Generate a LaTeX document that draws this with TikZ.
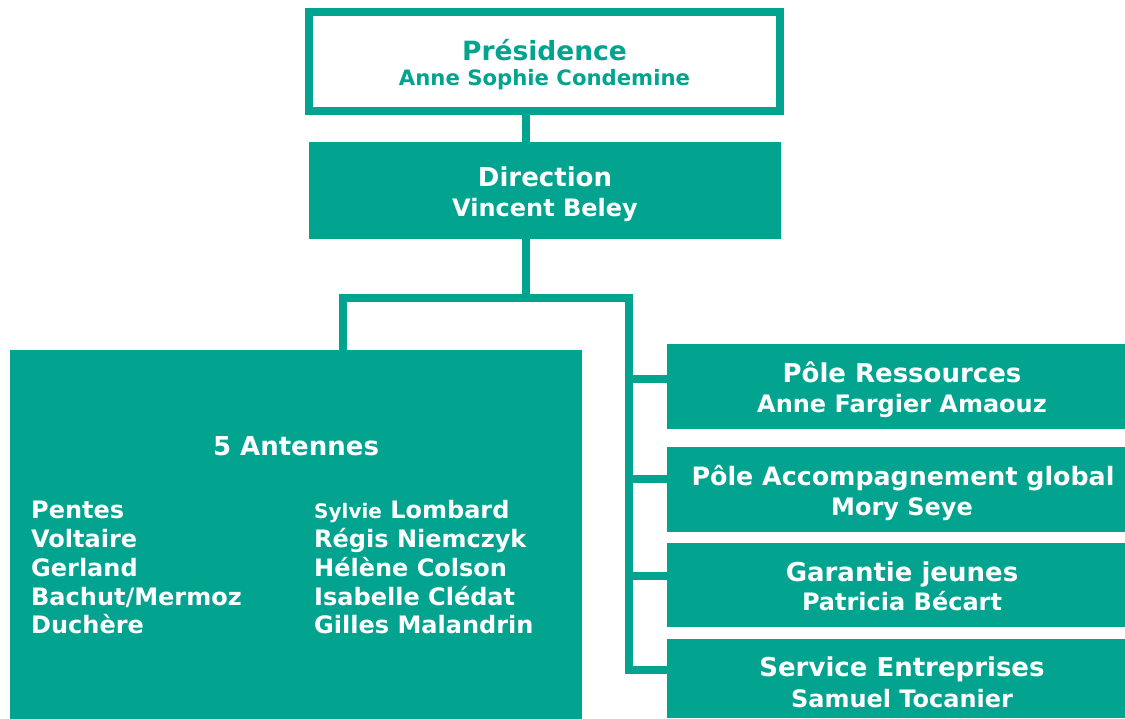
\documentclass[tikz,border=0pt]{standalone}
\usepackage{fontspec}
\setmainfont{DejaVu Sans}
\definecolor{mlteal}{RGB}{2,164,144}
\begin{document}
\begin{tikzpicture}[x=1pt,y=-1pt,
  fillbox/.style={fill=mlteal,draw=none,inner sep=0pt,outer sep=0pt},
  conn/.style={draw=mlteal,line width=8pt,line join=miter},
  ttl/.style={anchor=base,text=white,font=\bfseries\fontsize{26}{30}\selectfont,inner sep=0pt},
  nm/.style={anchor=base,text=white,font=\bfseries\fontsize{24}{28}\selectfont,inner sep=0pt},
  lst/.style={anchor=base west,text=white,font=\bfseries\fontsize{24}{28}\selectfont,inner sep=0pt}]
\useasboundingbox (0,0) rectangle (1125,719);
% boxes
\node[draw=mlteal,line width=8pt,fill=white,inner sep=0pt,minimum width=471pt,minimum height=99pt] (pres) at (544.5,61.5) {};
\node[fillbox,minimum width=472pt,minimum height=97pt] (dir) at (545,190.5) {};
\node[fillbox,minimum width=572pt,minimum height=369pt] (ant) at (296,534.5) {};
\node[fillbox,minimum width=458pt,minimum height=85pt] (pr) at (896,386.5) {};
\node[fillbox,minimum width=458pt,minimum height=85pt] (pa) at (896,489.5) {};
\node[fillbox,minimum width=458pt,minimum height=84pt] (gj) at (896,585) {};
\node[fillbox,minimum width=458pt,minimum height=79pt] (se) at (896,678.5) {};
% connectors
\coordinate (j1) at (525.5,298);
\coordinate (jl) at (343,298);
\coordinate (jr) at (629,298);
\coordinate (b1) at (629,379);
\coordinate (b2) at (629,479);
\coordinate (b3) at (629,576);
\coordinate (b4) at (629,670);
\draw[conn] (j1 |- pres.south) -- (j1 |- dir.north);
\draw[conn] (j1 |- dir.south) -- (j1);
\draw[conn] (jl |- ant.north) -- (jl) -- (jr) -- (b4) -- (b4 -| se.west);
\draw[conn] (b1) -- (b1 -| pr.west);
\draw[conn] (b2) -- (b2 -| pa.west);
\draw[conn] (b3) -- (b3 -| gj.west);
% texts
\node[ttl,text=mlteal,font=\bfseries\fontsize{26.5}{30}\selectfont] (t1) at (544.5,61) {Présidence};
\node[nm,text=mlteal,font=\bfseries\fontsize{21.2}{24}\selectfont] (n1) at (544.5,86) {Anne Sophie Condemine};
\node[ttl] (t2) at (545,187) {Direction};
\node[nm] (n2) at (545,217) {Vincent Beley};
\node[ttl] (t3) at (296,455) {5 Antennes};
\node[lst] (l1) at (31,518) {Pentes};
\node[lst] (l2) at (31,547) {Voltaire};
\node[lst] (l3) at (31,576) {Gerland};
\node[lst] (l4) at (31,605) {Bachut/Mermoz};
\node[lst] (l5) at (31,633) {Duchère};
\node[lst] (r1) at (314,518) {{\fontsize{20}{22}\selectfont Sylvie} Lombard};
\node[lst] (r2) at (314,547) {Régis Niemczyk};
\node[lst] (r3) at (314,576) {Hélène Colson};
\node[lst] (r4) at (314,605) {Isabelle Clédat};
\node[lst] (r5) at (314,633) {Gilles Malandrin};
\node[ttl] (t4) at (902,383) {Pôle Ressources};
\node[nm] (n4) at (902,412) {Anne Fargier Amaouz};
\node[ttl,font=\bfseries\fontsize{25.3}{30}\selectfont] (t5) at (903,485) {Pôle Accompagnement global};
\node[nm] (n5) at (902,515) {Mory Seye};
\node[ttl] (t6) at (902,581) {Garantie jeunes};
\node[nm] (n6) at (902,610) {Patricia Bécart};
\node[ttl] (t7) at (902,676) {Service Entreprises};
\node[nm] (n7) at (902,707) {Samuel Tocanier};
\end{tikzpicture}
\end{document}
